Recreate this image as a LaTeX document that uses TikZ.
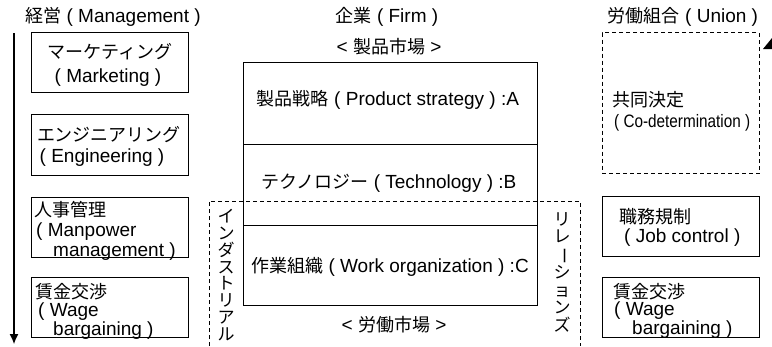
\documentclass[tikz,border=0pt]{standalone}
\usepackage{fontspec}
\usepackage{graphicx}
\usetikzlibrary{arrows.meta}
\setmainfont{Liberation Sans}
\newfontfamily\jp{Noto Sans CJK JP}
\newfontfamily\condfont[FakeStretch=0.85]{Liberation Sans}
\newcommand\J[1]{{\jp\fontsize{18}{20}\selectfont #1}}
\newcommand\vbar{\rotatebox[origin=c]{-90}{ー}}
\tikzset{
  lbl/.style={font=\fontsize{19}{21}\selectfont, inner sep=0pt},
  boxr/.style={draw, line width=0.8pt},
  dashbox/.style={draw, line width=0.8pt, dash pattern=on 4pt off 3pt},
}
\begin{document}
\begin{tikzpicture}[x=1pt,y=-1pt]
\useasboundingbox (0,0) rectangle (772,346);
% titles
\node[lbl] (tm) at (113,17) {\J{経営} ( Management )};
\node[lbl] (tf) at (387,17) {\J{企業} ( Firm )};
\node[lbl] (tu) at (683,17) {\J{労働組合} ( Union )};
\node[lbl] (pm) at (389,47) {< \J{製品市場} >};
\node[lbl] (lm) at (394,325) {< \J{労働市場} >};
% left arrow
\coordinate (at) at (14,33);
\coordinate (ab) at (14,344);
\draw[line width=1.2pt, -{Latex[length=10pt,width=9pt]}] (at) -- (ab);
% left boxes
\node[boxr, minimum width=157pt, minimum height=60pt] (b1) at (109.5,62.5) {};
\node[boxr, minimum width=157pt, minimum height=61pt] (b2) at (109.5,145) {};
\node[boxr, minimum width=157pt, minimum height=60pt] (b3) at (109.5,227) {};
\node[boxr, minimum width=157pt, minimum height=60pt] (b4) at (109.5,307) {};
\node[lbl] (b1a) at (110,52) {\J{マーケティング}};
\node[lbl] (b1b) at (108,78) {( Marketing )};
\node[lbl] (b2a) at (109,135) {\J{エンジニアリング}};
\node[lbl] (b2b) at (102,158) {( Engineering )};
\node[lbl, anchor=west] (b3a) at (34,210) {\J{人事管理}};
\node[lbl, anchor=west] (b3b) at (36,232) {( Manpower};
\node[lbl, anchor=west] (b3c) at (53,252) {management )};
\node[lbl, anchor=west] (b4a) at (35,292) {\J{賃金交渉}};
\node[lbl, anchor=west] (b4b) at (38,312) {( Wage};
\node[lbl, anchor=west] (b4c) at (53,331) {bargaining )};
% industrial relations dashed frame
\coordinate (d1) at (209,346);
\coordinate (d2) at (209,201);
\coordinate (d3) at (580,201);
\coordinate (d4) at (580,346);
\draw[dashbox] (d1) -- (d2) -- (d3) -- (d4);
\node[lbl, align=center, font=\jp\fontsize{17}{16.8}\selectfont] (ind) at (226,275) {イ\\ン\\ダ\\ス\\ト\\リ\\ア\\ル};
\node[lbl, align=center, font=\jp\fontsize{17}{17.4}\selectfont] (rel) at (562,272) {リ\\レ\\\vbar\\シ\\ョ\\ン\\ズ};
% firm box
\node[boxr, minimum width=294pt, minimum height=243pt] (firm) at (390,184) {};
\coordinate (s1l) at (243,144);
\coordinate (s1r) at (537,144);
\coordinate (s2l) at (243,225);
\coordinate (s2r) at (537,225);
\draw[line width=0.8pt] (s1l) -- (s1r);
\draw[line width=0.8pt] (s2l) -- (s2r);
\node[lbl] (fa) at (388,100) {\J{製品戦略} ( Product strategy ) :A};
\node[lbl] (fb) at (389,183) {\J{テクノロジー} ( Technology ) :B};
\node[lbl] (fc) at (390,267) {\J{作業組織} ( Work organization ) :C};
% union
\node[dashbox, minimum width=157pt, minimum height=141pt] (ub) at (680.5,103) {};
\node[lbl, anchor=west] (u1) at (612,100) {\J{共同決定}};
\node[lbl, anchor=west, font=\condfont\fontsize{18}{20}\selectfont] (u2) at (614,123) {( Co-determination )};
\node[boxr, minimum width=157pt, minimum height=60pt] (r1) at (680.5,226) {};
\node[boxr, minimum width=157pt, minimum height=60pt] (r2) at (680.5,307) {};
\node[lbl, anchor=west] (r1a) at (619,217) {\J{職務規制}};
\node[lbl, anchor=west] (r1b) at (624,238) {( Job control )};
\node[lbl, anchor=west] (r2a) at (613,292) {\J{賃金交渉}};
\node[lbl, anchor=west] (r2b) at (614,311) {( Wage};
\node[lbl, anchor=west] (r2c) at (632,330) {bargaining )};
% cut arrowhead at right edge
\fill (763,49) -- (772,38) -- (772,49) -- cycle;
\end{tikzpicture}
\end{document}
